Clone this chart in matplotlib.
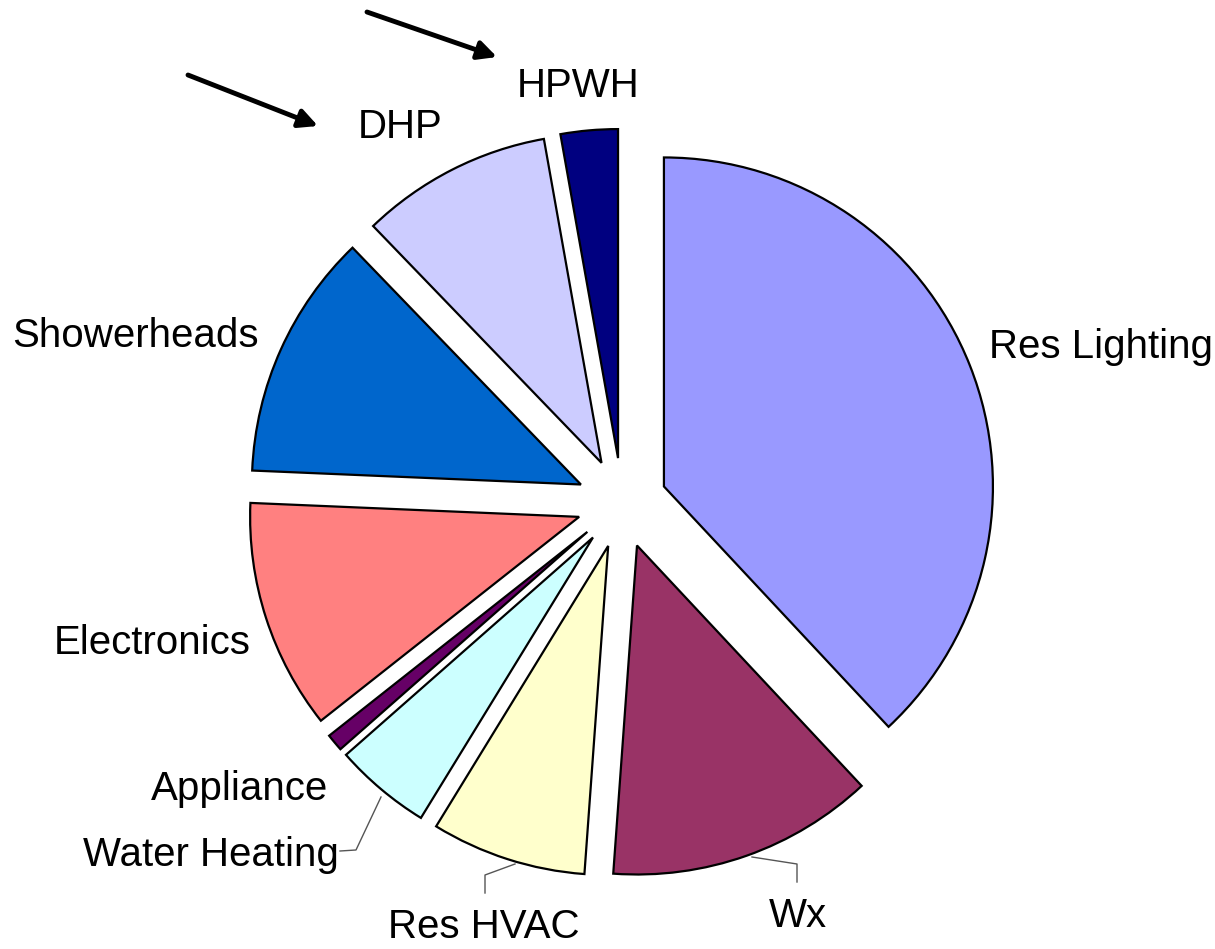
import matplotlib
matplotlib.use("Agg")
import matplotlib.pyplot as plt

# slices, clockwise from 12 o'clock
labels = ["Res Lighting", "Wx", "Res HVAC", "Water Heating", "Appliance",
          "Electronics", "Showerheads", "DHP", "HPWH"]
shares = [38.0, 13.1, 7.6, 4.75, 0.85, 11.3, 12.1, 9.4, 2.8]
colors = ["#9999FF", "#993366", "#FFFFCC", "#CCFFFF", "#660066",
          "#FF8080", "#0066CC", "#CCCCFF", "#000080"]

# layout in image pixels (x right, y down)
W, H = 1215, 949
CX, CY, R = 622, 503, 329


def px(x, y):
    return (x - CX) / R, (CY - y) / R


label_pos = {
    "Res Lighting": (989, 347, "left"),
    "Wx": (798, 916, "center"),
    "Res HVAC": (484, 927, "center"),
    "Water Heating": (339, 855, "right"),
    "Appliance": (328, 789, "right"),
    "Electronics": (251, 643, "right"),
    "Showerheads": (259, 336, "right"),
    "DHP": (400, 127, "center"),
    "HPWH": (578, 86, "center"),
}
leaders = [
    [(752, 857), (797, 864), (797, 882)],
    [(515, 864), (485, 875), (485, 893)],
    [(381, 797), (356, 850), (340, 851)],
]
arrows = [((188, 75), (318, 126)), ((367, 12), (497, 57))]

fig = plt.figure(figsize=(W / 100, H / 100), dpi=100)
ax = fig.add_axes([0, 0, 1, 1])
ax.pie(shares, colors=colors, startangle=90, counterclock=False,
       explode=[0.137] * len(shares), radius=1.0,
       wedgeprops=dict(edgecolor="black", linewidth=1.6))
ax.set_xlim(-CX / R, (W - CX) / R)
ax.set_ylim(-(H - CY) / R, CY / R)
ax.axis("off")

for name in labels:
    x, y, ha = label_pos[name]
    ax.text(*px(x, y), name, ha=ha, va="center", fontsize=29,
            family=["Liberation Sans", "DejaVu Sans"])

for pts in leaders:
    xs, ys = zip(*[px(x, y) for x, y in pts])
    ax.plot(xs, ys, color="#555555", lw=1.0)

for tail, head in arrows:
    ax.annotate("", xy=px(*head), xytext=px(*tail),
                arrowprops=dict(arrowstyle="-|>", lw=3.5, color="black",
                                mutation_scale=28, shrinkA=0, shrinkB=0))

fig.savefig("out.png", dpi=100)
